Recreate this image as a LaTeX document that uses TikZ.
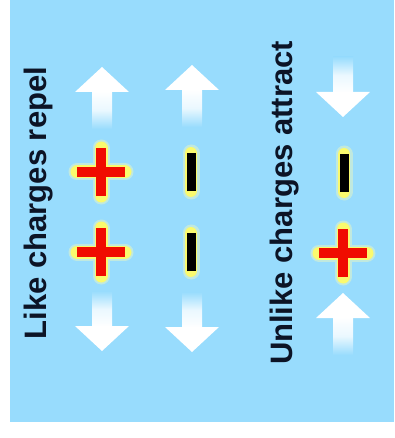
\documentclass[tikz,border=0pt]{standalone}
\usepackage{fontspec}
\setmainfont{Liberation Sans}
\definecolor{bgblue}{RGB}{152,220,253}
\definecolor{txtcol}{RGB}{12,20,38}
\definecolor{plusred}{RGB}{240,12,0}
\definecolor{glowyel}{RGB}{250,250,110}
\definecolor{glowpale}{RGB}{225,245,200}
\tikzset{
  lbl/.style={font=\bfseries\fontsize{31}{31}\selectfont, text=txtcol, rotate=90, anchor=base, inner sep=0pt},
  glowout/.style={draw=glowpale, line width=17pt, line cap=round, opacity=0.55},
  glowin/.style={draw=glowyel, line width=13pt, line cap=round},
  plusbar/.style={draw=plusred, line width=10pt},
  minusbar/.style={draw=black, line width=9pt},
}
\newcommand{\plussign}[3]{%
  \coordinate (#1) at (#2,#3);
  \draw[glowout] ([xshift=-24pt]#1) -- ([xshift=24pt]#1) ([yshift=-24pt]#1) -- ([yshift=24pt]#1);
  \draw[glowin] ([xshift=-24pt]#1) -- ([xshift=24pt]#1) ([yshift=-24pt]#1) -- ([yshift=24pt]#1);
  \draw[plusbar] ([xshift=-24pt]#1) -- ([xshift=24pt]#1) ([yshift=-24pt]#1) -- ([yshift=24pt]#1);
}
\newcommand{\minussign}[3]{%
  \coordinate (#1) at (#2,#3);
  \draw[glowout] ([yshift=-19pt]#1) -- ([yshift=19pt]#1);
  \draw[glowin, line width=12pt] ([yshift=-19pt]#1) -- ([yshift=19pt]#1);
  \draw[minusbar] ([yshift=-19pt]#1) -- ([yshift=19pt]#1);
}
% up arrow: name, x, tip y (pixel coords, y downward)
\newcommand{\uparr}[3]{%
  \coordinate (#1) at (#2,#3);
  \shade[top color=white, bottom color=bgblue, middle color=white!80!bgblue]
    ([xshift=-10pt,yshift=-24pt]#1) rectangle ([xshift=10pt,yshift=-62pt]#1);
  \fill[white] (#1) -- ([xshift=27pt,yshift=-25pt]#1) -- ([xshift=-27pt,yshift=-25pt]#1) -- cycle;
}
\newcommand{\downarr}[3]{%
  \coordinate (#1) at (#2,#3);
  \shade[bottom color=white, top color=bgblue, middle color=white!80!bgblue]
    ([xshift=-10pt,yshift=24pt]#1) rectangle ([xshift=10pt,yshift=60pt]#1);
  \fill[white] (#1) -- ([xshift=27pt,yshift=25pt]#1) -- ([xshift=-27pt,yshift=25pt]#1) -- cycle;
}
\begin{document}
\begin{tikzpicture}[x=1pt,y=-1pt]
\useasboundingbox (0,0) rectangle (394,438);
\fill[white] (0,0) rectangle (394,438);
\fill[bgblue] (10,0) rectangle (394,422);

\node[lbl] (like) at (46,203) {Like charges repel};
\node[lbl] (unlike) at (292,203) {Unlike charges attract};

% column 1
\uparr{a1}{102}{67}
\downarr{a2}{102}{351}
\plussign{p1}{101}{172}
\plussign{p2}{101}{252}

% column 2
\uparr{a3}{192}{65}
\downarr{a4}{192}{352}
\minussign{m1}{191}{172}
\minussign{m2}{191}{252}

% column 3
\downarr{a5}{343}{117}
\uparr{a6}{343}{293}
\minussign{m3}{344}{173}
\plussign{p3}{343}{253}
\end{tikzpicture}
\end{document}
